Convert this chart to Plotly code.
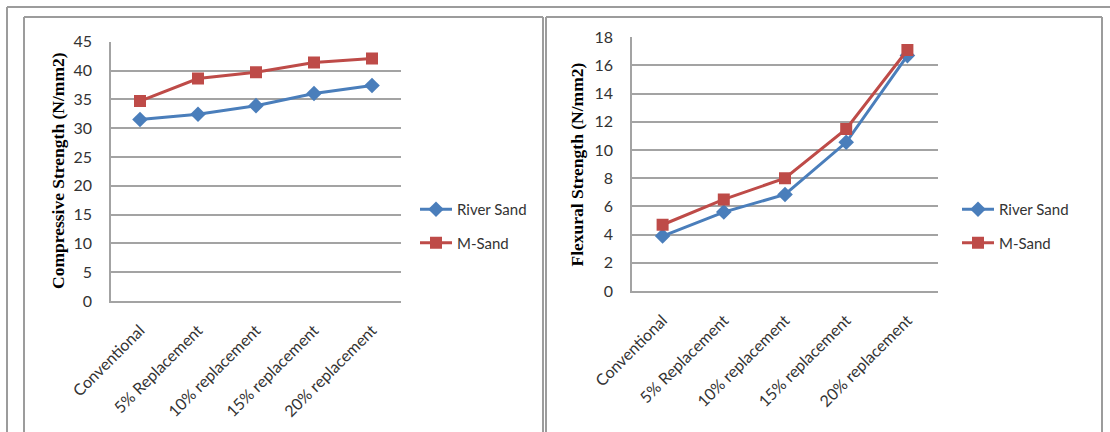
import plotly.graph_objects as go

categories = ["Conventional", "5% Replacement", "10% replacement", "15% replacement", "20% replacement"]
comp_river = [31.5, 32.4, 33.9, 36.0, 37.4]
comp_msand = [34.7, 38.6, 39.7, 41.4, 42.1]
flex_river = [3.9, 5.6, 6.85, 10.55, 16.7]
flex_msand = [4.7, 6.5, 8.0, 11.5, 17.1]
comp_ticks = list(range(0, 46, 5))
flex_ticks = list(range(0, 19, 2))
series_names = ["River Sand", "M-Sand"]

W, H = 1110, 432


def px(x):
    return x / W


def py(y):
    return 1 - y / H


BLUE = "#4a7ebb"
RED = "#be4b48"
GRID = "#a3a3a3"
FRAME = "#9c9c9c"
TXT = "#333333"
FONT = "Lato"

fig = go.Figure()

for vals, ax, leg in [((comp_river, comp_msand), ("x", "y"), "legend"),
                      ((flex_river, flex_msand), ("x2", "y2"), "legend2")]:
    fig.add_trace(go.Scatter(x=categories, y=vals[0], name=series_names[0], mode="lines+markers",
                             line=dict(color=BLUE, width=3),
                             marker=dict(symbol="diamond", size=12, color=BLUE),
                             xaxis=ax[0], yaxis=ax[1], legend=leg, legendgroup="a" + leg))
    fig.add_trace(go.Scatter(x=categories, y=vals[1], name=series_names[1], mode="lines+markers",
                             line=dict(color=RED, width=3),
                             marker=dict(symbol="square", size=12, color=RED),
                             xaxis=ax[0], yaxis=ax[1], legend=leg, legendgroup="b" + leg))

xcommon = dict(type="category", range=[-0.5, 4.5], showline=True, linecolor=GRID, linewidth=1.5,
               showgrid=False, zeroline=False, tickangle=-45, ticks="", automargin=False,
               tickfont=dict(family=FONT, size=16, color=TXT), ticklabelstandoff=12)
ycommon = dict(showline=True, linecolor=GRID, linewidth=1.5, showgrid=True, gridcolor=GRID,
               gridwidth=1.5, zeroline=False, ticks="", automargin=False,
               tickfont=dict(family=FONT, size=16, color=TXT), ticklabelstandoff=14)

fig.update_layout(
    template="none",
    width=W, height=H, margin=dict(l=0, r=0, t=0, b=0, pad=0), autosize=False,
    paper_bgcolor="white", plot_bgcolor="white",
    xaxis=dict(domain=[px(111), px(401)], anchor="y", **xcommon),
    yaxis=dict(domain=[py(301), py(41.7)], anchor="x", range=[0, 45], tickvals=comp_ticks, **ycommon),
    xaxis2=dict(domain=[px(632), px(938)], anchor="y2", **xcommon),
    yaxis2=dict(domain=[py(291), py(37.3)], anchor="x2", range=[0, 18], tickvals=flex_ticks, **ycommon),
    legend=dict(x=px(415), y=py(226), xanchor="left", yanchor="middle", tracegroupgap=11,
                itemwidth=32, font=dict(family=FONT, size=15, color=TXT), bgcolor="rgba(0,0,0,0)"),
    legend2=dict(x=px(957), y=py(226), xanchor="left", yanchor="middle", tracegroupgap=11,
                 itemwidth=32, font=dict(family=FONT, size=15, color=TXT), bgcolor="rgba(0,0,0,0)"),
    showlegend=True,
    annotations=[
        dict(text="<b>Compressive Strength (N/mm2)</b>", x=px(58), y=py(171), xref="paper", yref="paper",
             textangle=-90, showarrow=False, xanchor="center", yanchor="middle",
             font=dict(family="Liberation Serif", size=17.5, color="#000000")),
        dict(text="<b>Flexural Strength (N/mm2)</b>", x=px(577), y=py(164.5), xref="paper", yref="paper",
             textangle=-90, showarrow=False, xanchor="center", yanchor="middle",
             font=dict(family="Liberation Serif", size=17.5, color="#000000")),
    ],
    shapes=[
        # outer frame
        dict(type="line", xref="paper", yref="paper", x0=px(7), x1=px(1110), y0=py(7), y1=py(7),
             line=dict(color=FRAME, width=2)),
        dict(type="line", xref="paper", yref="paper", x0=px(7), x1=px(7), y0=py(7), y1=py(432),
             line=dict(color=FRAME, width=2)),
        # left chart box
        dict(type="line", xref="paper", yref="paper", x0=px(24), x1=px(543), y0=py(17), y1=py(17),
             line=dict(color=FRAME, width=2)),
        dict(type="line", xref="paper", yref="paper", x0=px(24), x1=px(24), y0=py(17), y1=py(432),
             line=dict(color=FRAME, width=2)),
        dict(type="line", xref="paper", yref="paper", x0=px(543), x1=px(543), y0=py(17), y1=py(432),
             line=dict(color=FRAME, width=2)),
        # right chart box
        dict(type="line", xref="paper", yref="paper", x0=px(546), x1=px(1102), y0=py(17), y1=py(17),
             line=dict(color=FRAME, width=2)),
        dict(type="line", xref="paper", yref="paper", x0=px(546), x1=px(546), y0=py(17), y1=py(432),
             line=dict(color=FRAME, width=2)),
        dict(type="line", xref="paper", yref="paper", x0=px(1102), x1=px(1102), y0=py(17), y1=py(432),
             line=dict(color=FRAME, width=2)),
    ],
)

fig.write_html("out.html", config={"displayModeBar": False},
               post_script="document.body.style.margin='0px';")
